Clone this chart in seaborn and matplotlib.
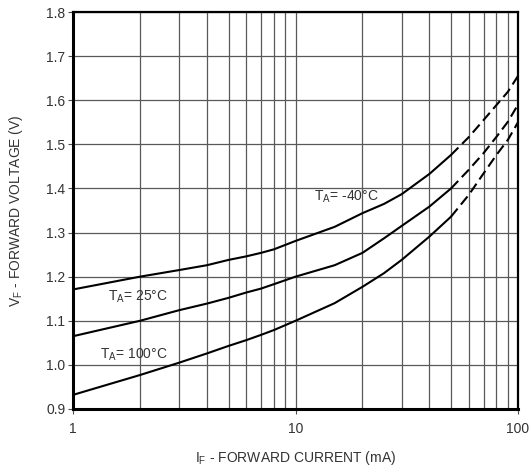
import matplotlib
matplotlib.use('Agg')
import matplotlib.pyplot as plt
import matplotlib.ticker as mticker
import pandas as pd
import seaborn as sns

# forward current (mA), solid part of the curves
current_solid = [1, 2, 3, 4, 5, 6, 7, 8, 10, 15, 20, 25, 30, 40, 50]
vf_m40_solid = [1.171, 1.200, 1.215, 1.226, 1.238, 1.246, 1.254, 1.262, 1.281,
                1.313, 1.344, 1.365, 1.387, 1.433, 1.476]
vf_25_solid = [1.065, 1.100, 1.124, 1.139, 1.152, 1.164, 1.173, 1.183, 1.200,
               1.226, 1.254, 1.287, 1.315, 1.359, 1.400]
vf_100_solid = [0.932, 0.977, 1.005, 1.026, 1.043, 1.056, 1.068, 1.079, 1.100,
                1.140, 1.177, 1.208, 1.238, 1.291, 1.336]

# dashed (extrapolated) part
current_dash = [50, 60, 70, 80, 90, 100]
vf_m40_dash = [1.476, 1.516, 1.555, 1.589, 1.619, 1.655]
vf_25_dash = [1.400, 1.442, 1.480, 1.517, 1.551, 1.590]
vf_100_dash = [1.336, 1.385, 1.434, 1.476, 1.510, 1.550]

y_ticks = [0.9, 1.0, 1.1, 1.2, 1.3, 1.4, 1.5, 1.6, 1.7, 1.8]
x_ticks = [1, 10, 100]

sns.set_style('white')
plt.rcParams['font.family'] = ['Liberation Sans', 'DejaVu Sans']

fig = plt.figure(figsize=(5.31, 4.72), dpi=100)
ax = fig.add_axes([0.1375, 0.1335, 0.838, 0.841])

curves = [
    (vf_m40_solid, vf_m40_dash),
    (vf_25_solid, vf_25_dash),
    (vf_100_solid, vf_100_dash),
]
for solid, dash in curves:
    df_s = pd.DataFrame({'I': current_solid, 'V': solid})
    df_d = pd.DataFrame({'I': current_dash, 'V': dash})
    sns.lineplot(data=df_s, x='I', y='V', ax=ax, color='black', linewidth=1.5)
    line = sns.lineplot(data=df_d, x='I', y='V', ax=ax, color='black',
                        linewidth=1.5).lines[-1]
    line.set_dashes((5, 2.5))

ax.set_xscale('log')
ax.set_xlim(1, 100)
ax.set_ylim(0.9, 1.8)
ax.set_xticks(x_ticks)
ax.xaxis.set_major_formatter(mticker.FuncFormatter(lambda v, p: '%g' % v))
ax.xaxis.set_minor_locator(mticker.LogLocator(base=10, subs=range(2, 10)))
ax.xaxis.set_minor_formatter(mticker.NullFormatter())
ax.set_yticks(y_ticks)
ax.yaxis.set_major_formatter(mticker.FormatStrFormatter('%.1f'))

ax.grid(True, which='both', color='0.35', linewidth=0.9)
ax.set_axisbelow(True)

for side in ['left', 'bottom']:
    ax.spines[side].set_linewidth(2.2)
for side in ['top', 'right']:
    ax.spines[side].set_linewidth(1.6)
for s in ax.spines.values():
    s.set_color('black')

ax.tick_params(which='major', direction='out', length=3.5, width=0.8,
               color='0.3', labelsize=10, labelcolor='#333333', pad=2)
ax.tick_params(axis='x', which='major', pad=6)
ax.tick_params(which='minor', length=0)
ax.tick_params(left=True, bottom=True)

ax.set_xlabel('I$_\\mathregular{F}$ - FORWARD CURRENT (mA)', fontsize=10,
              color='#333333', labelpad=9)
ax.set_ylabel('V$_\\mathregular{F}$ - FORWARD VOLTAGE (V)', fontsize=10,
              color='#333333', labelpad=15)

ax.text(12.1, 1.381, 'T$_\\mathregular{A}$= -40°C', fontsize=10,
        color='#333333', va='center', ha='left')
ax.text(1.44, 1.154, 'T$_\\mathregular{A}$= 25°C', fontsize=10,
        color='#333333', va='center', ha='left')
ax.text(1.32, 1.022, 'T$_\\mathregular{A}$= 100°C', fontsize=10,
        color='#333333', va='center', ha='left')

fig.savefig('out.png', dpi=100)
